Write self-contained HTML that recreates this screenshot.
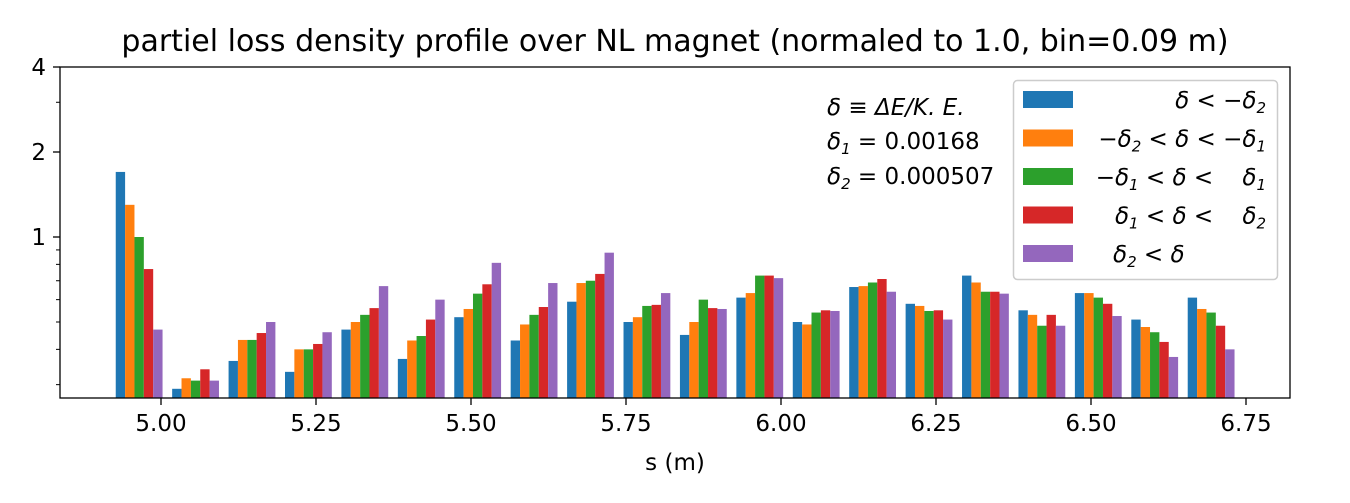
<!DOCTYPE html>
<html><head><meta charset="utf-8"><style>
body{margin:0;background:#fff;}
svg{display:block;font-family:"DejaVu Sans","Liberation Sans",sans-serif;}
</style></head><body>
<svg id="chart" width="1350" height="503" xmlns="http://www.w3.org/2000/svg">
<rect width="1350" height="503" fill="#fff"/>
<text x="675" y="51" font-size="30" text-anchor="middle">partiel loss density profile over NL magnet (normaled to 1.0, bin=0.09 m)</text>
<g id="bars"></g>
<g id="axes"></g>
<text x="675" y="470" font-size="23" text-anchor="middle">s (m)</text>
<g font-size="23" font-style="italic">
<text x="827" y="115">δ  ≡ ΔE/K. E.</text>
<text x="827" y="149">δ<tspan font-size="15" dy="5">1</tspan><tspan dy="-5" font-style="normal"> = 0.00168</tspan></text>
<text x="827" y="184">δ<tspan font-size="15" dy="5">2</tspan><tspan dy="-5" font-style="normal"> = 0.000507</tspan></text>
</g>
<g>
<rect x="1013.5" y="80.5" width="264" height="199" rx="4" fill="#fff" stroke="#ccc" stroke-width="1.5"/>
<g id="legend-entries" font-size="23" font-style="italic"></g>
</g>
</svg>
<script>
const binStarts=[4.927,5.018,5.109,5.200,5.291,5.382,5.473,5.564,5.655,5.746,5.837,5.928,6.019,6.110,6.201,6.292,6.383,6.474,6.565,6.656];
const sBlue  =[1.70,0.29,0.364,0.333,0.47,0.37,0.52,0.43,0.59,0.50,0.45,0.61,0.50,0.665,0.58,0.73,0.55,0.633,0.51,0.61];
const sOrange=[1.30,0.316,0.432,0.40,0.50,0.43,0.556,0.49,0.687,0.52,0.50,0.633,0.49,0.67,0.57,0.69,0.53,0.633,0.48,0.556];
const sGreen =[1.00,0.31,0.432,0.40,0.53,0.446,0.63,0.53,0.70,0.57,0.60,0.73,0.54,0.69,0.547,0.64,0.485,0.61,0.46,0.54];
const sRed   =[0.77,0.34,0.457,0.418,0.56,0.51,0.68,0.565,0.74,0.575,0.56,0.73,0.55,0.71,0.55,0.64,0.53,0.58,0.425,0.485];
const sPurple=[0.47,0.31,0.50,0.46,0.67,0.60,0.81,0.687,0.88,0.633,0.556,0.715,0.547,0.64,0.51,0.63,0.485,0.525,0.376,0.40];
const xTicks=[5.00,5.25,5.50,5.75,6.00,6.25,6.50,6.75];
const yTicks=[1,2,4];
const yMinor=[0.3,0.4,0.5,0.6,0.7,0.8,0.9,3];
const colors=["#1f77b4","#ff7f0e","#2ca02c","#d62728","#9467bd"];
const series=[sBlue,sOrange,sGreen,sRed,sPurple];
const L=60,R=1290,T=67,B=398;
const barW=0.0151;
function X(s){return 161+(s-5)*620;}
function Y(v){return 237-85*Math.log2(v);}
const NS="http://www.w3.org/2000/svg";
function mk(tag,attrs,parent){const e=document.createElementNS(NS,tag);for(const k in attrs)e.setAttribute(k,attrs[k]);parent.appendChild(e);return e;}
const bars=document.getElementById('bars');
series.forEach((ser,si)=>{
  ser.forEach((v,i)=>{
    const x0=X(binStarts[i]+si*barW), x1=X(binStarts[i]+(si+1)*barW);
    const y=Math.max(T,Y(v));
    const r=mk('rect',{x:x0,y:y,width:x1-x0,height:B-y,fill:colors[si]},bars);
    
    
  });
});
const ax=document.getElementById('axes');
mk('rect',{x:L,y:T,width:R-L,height:B-T,fill:'none',stroke:'#000','stroke-width':1.3},ax);
xTicks.forEach(t=>{
  const x=X(t);
  mk('line',{x1:x,x2:x,y1:B,y2:B+7,stroke:'#000','stroke-width':1.3},ax);
  const tx=mk('text',{x:x,y:B+33,'font-size':23,'text-anchor':'middle'},ax);
  tx.textContent=t.toFixed(2);
  
  
});
yTicks.forEach(t=>{
  const y=Y(t);
  mk('line',{x1:L-7,x2:L,y1:y,y2:y,stroke:'#000','stroke-width':1.3},ax);
  const tx=mk('text',{x:L-14,y:y+8,'font-size':23,'text-anchor':'end'},ax);
  tx.textContent=t;
  
  
});
yMinor.forEach(t=>{
  const y=Y(t);
  mk('line',{x1:L-4,x2:L,y1:y,y2:y,stroke:'#000','stroke-width':1},ax);
});
const lg=document.getElementById('legend-entries');
colors.forEach((c,i)=>{
  const y=91+i*38.5;
  const r=mk('rect',{x:1023,y:y,width:50,height:17,fill:c},lg);
  
  
});
const htmlLabels=[
 '<tspan>δ &lt; −δ</tspan><tspan font-size="15" dy="5">2</tspan>',
 '<tspan>−δ</tspan><tspan font-size="15" dy="5">2</tspan><tspan dy="-5"> &lt; δ &lt; −δ</tspan><tspan font-size="15" dy="5">1</tspan>',
 '<tspan>−δ</tspan><tspan font-size="15" dy="5">1</tspan><tspan dy="-5"> &lt; δ &lt;    δ</tspan><tspan font-size="15" dy="5">1</tspan>',
 '<tspan>δ</tspan><tspan font-size="15" dy="5">1</tspan><tspan dy="-5"> &lt; δ &lt;    δ</tspan><tspan font-size="15" dy="5">2</tspan>',
 '<tspan>δ</tspan><tspan font-size="15" dy="5">2</tspan><tspan dy="-5"> &lt; δ</tspan>'
];
htmlLabels.forEach((h,i)=>{
  const y=108+i*38.5;
  const t=mk('text',{x:i<4?1266:1113,y:y,'text-anchor':i<4?'end':'start'},lg);
  t.style.whiteSpace='pre';
  t.innerHTML=h;
  
  
});
</script>
</body></html>
